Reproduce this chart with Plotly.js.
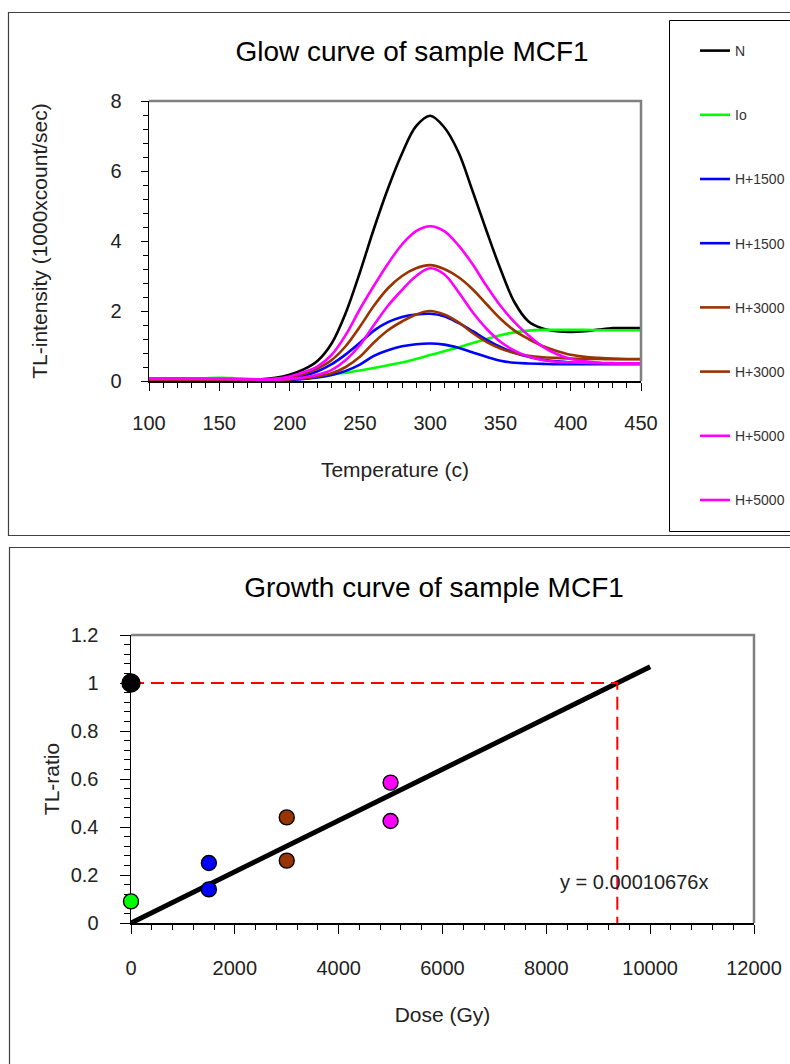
<!DOCTYPE html>
<html>
<head>
<meta charset="utf-8">
<script src="https://cdn.plot.ly/plotly-3.0.1.min.js"></script>
<style>
html,body{margin:0;padding:0;background:#fff;width:790px;height:1064px;overflow:hidden}
#glow{position:absolute;left:0;top:0;width:790px;height:540px}
#growth{position:absolute;left:0;top:540px;width:790px;height:524px}
</style>
</head>
<body>
<div id="glow"></div>
<div id="growth"></div>
<script>
// ---------------- Glow curve data ----------------
const temperature = [100,110,120,130,140,150,160,170,180,190,200,210,220,230,240,250,260,270,280,290,300,310,320,330,340,350,360,370,380,390,400,410,420,430,440,450];
const seriesNames = ['N','Io','H+1500','H+1500','H+3000','H+3000','H+5000','H+5000'];
const glowN      = [0.05,0.05,0.05,0.05,0.05,0.05,0.04,0.04,0.05,0.09,0.18,0.33,0.58,1.08,1.95,3.10,4.35,5.50,6.50,7.28,7.58,7.25,6.55,5.45,4.30,3.20,2.25,1.70,1.50,1.42,1.40,1.42,1.47,1.51,1.51,1.51];
const glowIo     = [0.05,0.05,0.06,0.07,0.08,0.09,0.08,0.06,0.04,0.04,0.06,0.09,0.13,0.18,0.24,0.30,0.37,0.45,0.53,0.63,0.74,0.85,0.96,1.08,1.20,1.31,1.39,1.44,1.46,1.46,1.46,1.46,1.45,1.45,1.45,1.45];
const glowH1500a = [0.03,0.03,0.03,0.03,0.03,0.03,0.03,0.03,0.03,0.03,0.06,0.15,0.28,0.48,0.76,1.09,1.44,1.68,1.83,1.90,1.92,1.85,1.66,1.43,1.18,0.97,0.81,0.69,0.61,0.56,0.53,0.52,0.51,0.50,0.50,0.50];
const glowH1500b = [0.02,0.02,0.02,0.02,0.02,0.02,0.02,0.02,0.02,0.02,0.03,0.06,0.10,0.17,0.29,0.47,0.72,0.88,0.99,1.05,1.07,1.04,0.95,0.82,0.69,0.58,0.52,0.50,0.49,0.48,0.48,0.48,0.48,0.48,0.48,0.48];
const glowH3000a = [0.02,0.02,0.02,0.02,0.02,0.02,0.02,0.02,0.02,0.04,0.10,0.20,0.36,0.60,1.00,1.55,2.15,2.65,3.00,3.22,3.31,3.20,2.97,2.63,2.20,1.78,1.44,1.20,1.00,0.86,0.75,0.69,0.66,0.64,0.63,0.63];
const glowH3000b = [0.02,0.02,0.02,0.02,0.02,0.02,0.02,0.02,0.02,0.02,0.04,0.08,0.13,0.22,0.40,0.69,1.10,1.45,1.70,1.90,2.00,1.90,1.68,1.38,1.12,0.93,0.80,0.72,0.68,0.66,0.64,0.63,0.63,0.62,0.62,0.62];
const glowH5000a = [0.08,0.08,0.08,0.07,0.07,0.06,0.06,0.05,0.05,0.07,0.13,0.25,0.42,0.75,1.32,2.05,2.72,3.35,3.90,4.28,4.42,4.28,3.88,3.35,2.72,2.15,1.68,1.30,0.98,0.77,0.63,0.56,0.52,0.51,0.50,0.50];
const glowH5000b = [0.06,0.06,0.06,0.06,0.06,0.06,0.05,0.05,0.04,0.04,0.06,0.10,0.18,0.32,0.60,1.02,1.60,2.15,2.60,3.00,3.22,3.05,2.55,1.98,1.50,1.12,0.87,0.70,0.60,0.55,0.53,0.52,0.51,0.50,0.50,0.50];
const glowSeries = [glowN, glowIo, glowH1500a, glowH1500b, glowH3000a, glowH3000b, glowH5000a, glowH5000b];
const glowColors = ['#000000','#00FF00','#0000FF','#0000FF','#993300','#993300','#FF00FF','#FF00FF'];

// ---------------- Growth curve data ----------------
const doses     = [0, 0, 1500, 1500, 3000, 3000, 5000, 5000];
const tlRatios  = [1.00, 0.09, 0.25, 0.14, 0.44, 0.26, 0.585, 0.425];
const pointColors = ['#000000','#00FF00','#0000FF','#0000FF','#993300','#993300','#FF00FF','#FF00FF'];
const pointSizes  = [18,15,15,15,15,15,15,15];
const fitDose  = [0, 10000];
const fitRatio = [0, 1.0676];
const equivDoseX = [0, 9367, 9367];
const equivDoseY = [1, 1, 0];
const fitLabel = 'y = 0.00010676x';

const FONT = 'Liberation Sans, Arial, Helvetica, sans-serif';
const W = 790;

// ---------- top chart ----------
(function(){
  const H = 540, m = {l:149, r:149, t:101, b:159, autoexpand: false};
  const pw = W - m.l - m.r, ph = H - m.t - m.b;
  const X = p => (p - m.l) / pw;
  const Y = p => (H - m.b - p) / ph;

  const traces = glowSeries.map((ys, i) => ({
    x: temperature, y: ys, type: 'scatter', mode: 'lines',
    name: seriesNames[i], legendgroup: 'g' + i,
    line: {color: glowColors[i], width: 2.6, shape: 'spline', smoothing: 1},
    hoverinfo: 'skip'
  }));

  const layout = {
    width: W, height: H, margin: m,
    paper_bgcolor: '#fff', plot_bgcolor: '#fff',
    font: {family: FONT, color: '#222'},
    title: {text: 'Glow curve of sample MCF1', font: {size: 28, color: '#000', family: FONT},
            x: 412 / W, xanchor: 'center', xref: 'container', y: 1 - 51 / H, yanchor: 'middle', yref: 'container'},
    showlegend: true,
    legend: {x: X(695), xanchor: 'left', y: Y(35), yanchor: 'top', bgcolor: 'rgba(0,0,0,0)', borderwidth: 0,
             font: {size: 14, color: '#333', family: FONT}, tracegroupgap: 43, itemwidth: 30, traceorder: 'grouped',
             maxheight: 520},
    xaxis: {range: [100, 450], tick0: 100, dtick: 50, showgrid: false, zeroline: false,
            showline: true, linecolor: '#000', linewidth: 1.5,
            ticks: 'outside', ticklen: 8, tickwidth: 1, tickcolor: '#000',
            minor: {dtick: 10, ticks: 'outside', ticklen: 5, tickcolor: '#000', tickwidth: 1, showgrid: false},
            tickfont: {size: 20, color: '#222', family: FONT}, ticklabelstandoff: 15,
            title: {text: 'Temperature (c)', font: {size: 21, color: '#222', family: FONT}, standoff: 30},
            fixedrange: true},
    yaxis: {range: [0, 8], tick0: 0, dtick: 2, showgrid: false, zeroline: false,
            showline: true, linecolor: '#000', linewidth: 1.5,
            ticks: 'outside', ticklen: 7, tickwidth: 1, tickcolor: '#000',
            minor: {dtick: 0.4, ticks: 'outside', ticklen: 5, tickcolor: '#000', tickwidth: 1, showgrid: false},
            tickfont: {size: 20, color: '#222', family: FONT}, ticklabelstandoff: 15,
            title: {text: 'TL-intensity (1000xcount/sec)', font: {size: 21, color: '#222', family: FONT}, standoff: 57},
            fixedrange: true},
    xaxis2: {overlaying: 'x', anchor: 'y', side: 'bottom', range: [100, 450], tick0: 100, dtick: 50,
             ticks: 'inside', ticklen: 9, tickcolor: '#000', showticklabels: false, showline: false, showgrid: false, zeroline: false, fixedrange: true},
    yaxis2: {overlaying: 'y', anchor: 'x', side: 'left', range: [0, 8], tick0: 0, dtick: 2,
             ticks: 'inside', ticklen: 9, tickcolor: '#000', showticklabels: false, showline: false, showgrid: false, zeroline: false, fixedrange: true},
    shapes: [
      {type: 'rect', xref: 'paper', yref: 'paper', x0: X(8.5), x1: X(805), y0: Y(535.5), y1: Y(12.5), line: {color: '#404040', width: 1.2}},
      {type: 'rect', xref: 'paper', yref: 'paper', x0: X(669.5), x1: X(805), y0: Y(531.5), y1: Y(20.5), line: {color: '#000', width: 1}},
      {type: 'path', xref: 'paper', yref: 'paper', path: `M 0 1 L 1 1 L 1 0`, line: {color: '#808080', width: 2.5}}
    ]
  };
  Plotly.newPlot('glow', traces, layout, {staticPlot: true, displayModeBar: false});
})();

// ---------- bottom chart ----------
(function(){
  const H = 524, m = {l:131, r:36, t:95, b:141, autoexpand: false};
  const pw = W - m.l - m.r, ph = H - m.t - m.b;
  const X = p => (p - m.l) / pw;
  const Y = p => (H - m.b - p) / ph;

  const traces = [
    {x: fitDose, y: fitRatio, type: 'scatter', mode: 'lines', line: {color: '#000', width: 5}, hoverinfo: 'skip', showlegend: false},
    {x: equivDoseX, y: equivDoseY, type: 'scatter', mode: 'lines', line: {color: '#FF0000', width: 2, dash: '13px,7px'}, hoverinfo: 'skip', showlegend: false},
    {x: doses, y: tlRatios, type: 'scatter', mode: 'markers', cliponaxis: false,
     marker: {color: pointColors, size: pointSizes, opacity: 1, line: {color: '#000', width: 1.4}}, hoverinfo: 'skip', showlegend: false}
  ];

  const layout = {
    width: W, height: H, margin: m,
    paper_bgcolor: '#fff', plot_bgcolor: '#fff',
    font: {family: FONT, color: '#222'},
    showlegend: false,
    title: {text: 'Growth curve of sample MCF1', font: {size: 28, color: '#000', family: FONT},
            x: 434 / W, xanchor: 'center', xref: 'container', y: 1 - 47 / H, yanchor: 'middle', yref: 'container'},
    xaxis: {range: [0, 12000], tick0: 0, dtick: 2000, tickformat: 'd', showgrid: false, zeroline: false,
            showline: true, linecolor: '#000', linewidth: 1.5, layer: 'below traces',
            ticks: 'outside', ticklen: 9, tickwidth: 1, tickcolor: '#000',
            minor: {dtick: 400, ticks: 'outside', ticklen: 5, tickcolor: '#000', tickwidth: 1, showgrid: false},
            tickfont: {size: 20, color: '#222', family: FONT}, ticklabelstandoff: 17,
            title: {text: 'Dose (Gy)', font: {size: 21, color: '#222', family: FONT}, standoff: 30},
            fixedrange: true},
    yaxis: {range: [0, 1.2], tick0: 0, dtick: 0.2, showgrid: false, zeroline: false,
            showline: true, linecolor: '#000', linewidth: 1.5, layer: 'below traces',
            ticks: 'outside', ticklen: 10, tickwidth: 1, tickcolor: '#000',
            minor: {dtick: 0.04, ticks: 'outside', ticklen: 6, tickcolor: '#000', tickwidth: 1, showgrid: false},
            tickfont: {size: 20, color: '#222', family: FONT}, ticklabelstandoff: 17,
            title: {text: 'TL-ratio', font: {size: 21, color: '#222', family: FONT}, standoff: 5},
            fixedrange: true},
    annotations: [
      {x: 9688, y: 0.171, xref: 'x', yref: 'y', text: fitLabel, showarrow: false,
       font: {size: 20, color: '#222', family: FONT}, xanchor: 'center', yanchor: 'middle'}
    ],
    shapes: [
      {type: 'rect', xref: 'paper', yref: 'paper', x0: X(9.5), x1: X(805), y0: Y(600), y1: Y(7.5), line: {color: '#404040', width: 1.2}},
      {type: 'path', xref: 'paper', yref: 'paper', path: `M 0 1 L 1 1 L 1 0`, line: {color: '#808080', width: 2.5}, layer: 'below'}
    ]
  };
  Plotly.newPlot('growth', traces, layout, {staticPlot: true, displayModeBar: false});
})();
</script>
</body>
</html>
